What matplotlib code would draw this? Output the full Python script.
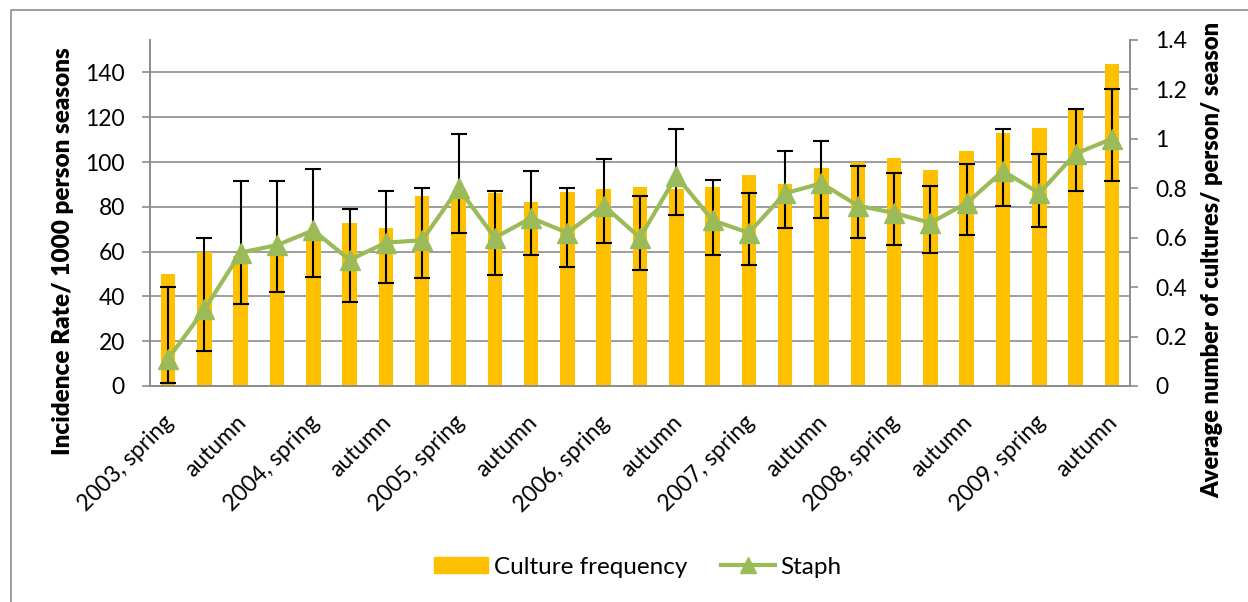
import matplotlib
matplotlib.use("Agg")
import matplotlib.pyplot as plt
import matplotlib.transforms as mtransforms
from matplotlib.lines import Line2D
import numpy as np

plt.rcParams['font.family'] = ['Lato', 'DejaVu Sans']

# seasons 2003 spring .. 2009 autumn (only every second one labelled)
seasons = []
for yr in range(2003, 2010):
    for s in ['spring', 'summer', 'autumn', 'winter']:
        seasons.append(f"{yr}, {s}" if s == 'spring' else s)
seasons = seasons[:27]

culture_freq = [50, 60, 58, 60, 66, 73, 70.5, 85, 84, 86, 82, 86.5, 88, 89,
                88, 89, 94, 90.3, 97.3, 100, 102, 96.4, 105, 112.8, 115, 123.5, 144]

staph = [0.11, 0.31, 0.54, 0.57, 0.63, 0.51, 0.58, 0.59, 0.80, 0.60, 0.68,
         0.62, 0.73, 0.60, 0.85, 0.67, 0.62, 0.78, 0.82, 0.73, 0.70, 0.66,
         0.74, 0.87, 0.78, 0.94, 1.00]
staph_hi = [0.40, 0.60, 0.83, 0.83, 0.88, 0.715, 0.79, 0.80, 1.02, 0.79, 0.87,
            0.80, 0.92, 0.77, 1.04, 0.835, 0.78, 0.95, 0.99, 0.89, 0.86, 0.81,
            0.90, 1.04, 0.94, 1.12, 1.20]
staph_lo = [0.013, 0.14, 0.33, 0.38, 0.44, 0.34, 0.415, 0.435, 0.62, 0.45, 0.53,
            0.48, 0.58, 0.47, 0.69, 0.53, 0.49, 0.64, 0.68, 0.60, 0.57, 0.54,
            0.61, 0.73, 0.645, 0.79, 0.83]

left_ticks = [0, 20, 40, 60, 80, 100, 120, 140]
right_ticks = [0, 0.2, 0.4, 0.6, 0.8, 1.0, 1.2, 1.4]
right_ticklabels = ['0', '0.2', '0.4', '0.6', '0.8', '1', '1.2', '1.4']

bar_color = '#FFC000'
line_color = '#9BBB59'
grid_color = '#8c8c8c'

fig = plt.figure(figsize=(12.48, 6.02), dpi=100)
ax = fig.add_axes([150 / 1248, 1 - 386 / 602, 980 / 1248, 346 / 602])
ax2 = ax.twinx()

x = np.arange(len(seasons))
ax.bar(x, culture_freq, width=0.4, color=bar_color, zorder=2)
ax.set_ylim(0, 154.5)
ax.set_xlim(-0.5, len(seasons) - 0.5)
ax.set_yticks(left_ticks)
ax.yaxis.grid(True, color=grid_color, linewidth=1.2, zorder=0)
ax.set_axisbelow(True)
ax.set_xticks(x[::2])
ax.set_xticklabels(seasons[::2], rotation=45, ha='right', va='top',
                   rotation_mode='anchor', fontsize=16.5)
ax.tick_params(axis='x', length=0, pad=18)
shift = mtransforms.ScaledTranslation(-0.05, -0.01, fig.dpi_scale_trans)
for lbl in ax.get_xticklabels():
    lbl.set_transform(lbl.get_transform() + shift)
ax.tick_params(axis='y', length=6, width=1.2, color=grid_color, pad=12, labelsize=16.5)

yerr = [np.array(staph) - np.array(staph_lo), np.array(staph_hi) - np.array(staph)]
ax2.errorbar(x, staph, yerr=yerr, fmt='none', ecolor='black', elinewidth=1.5,
             capsize=6, capthick=1.5, zorder=2)
ax2.plot(x, staph, color=line_color, linewidth=3, marker='^', markersize=14, zorder=3)
ax2.set_ylim(0, 1.4)
ax2.set_yticks(right_ticks)
ax2.set_yticklabels(right_ticklabels)
ax2.tick_params(axis='y', length=6, width=1.2, color=grid_color, pad=12, labelsize=16.5)

for a in (ax, ax2):
    a.spines['top'].set_visible(False)
    for s in ('left', 'right', 'bottom'):
        a.spines[s].set_color(grid_color)
        a.spines[s].set_linewidth(1.2)
ax2.patch.set_visible(False)

fig.text(63 / 1248, 1 - 251 / 602, 'Incidence Rate/ 1000 person seasons',
         rotation=90, ha='center', va='center', fontsize=17.5, fontweight='heavy')
fig.text(1212 / 1248, 1 - 260 / 602, 'Average number of cultures/ person/ season',
         rotation=90, ha='center', va='center', fontsize=17, fontweight='heavy')

handles = [plt.Rectangle((0, 0), 1, 1, color=bar_color),
           Line2D([0], [0], color=line_color, linewidth=3, marker='^', markersize=12)]
fig.legend(handles, ['Culture frequency', 'Staph'], loc='center',
           bbox_to_anchor=(638 / 1248, 1 - 567 / 602), ncol=2, frameon=False,
           fontsize=17.5, handlelength=2.2, handleheight=0.65, columnspacing=1.4,
           handletextpad=0.25)

# chart border (left and top edges visible)
fig.add_artist(Line2D([11 / 1248, 11 / 1248, 1], [0, 1 - 10 / 602, 1 - 10 / 602],
                      transform=fig.transFigure, color='#8c8c8c', linewidth=1.2))

fig.savefig('out.png', dpi=100)
